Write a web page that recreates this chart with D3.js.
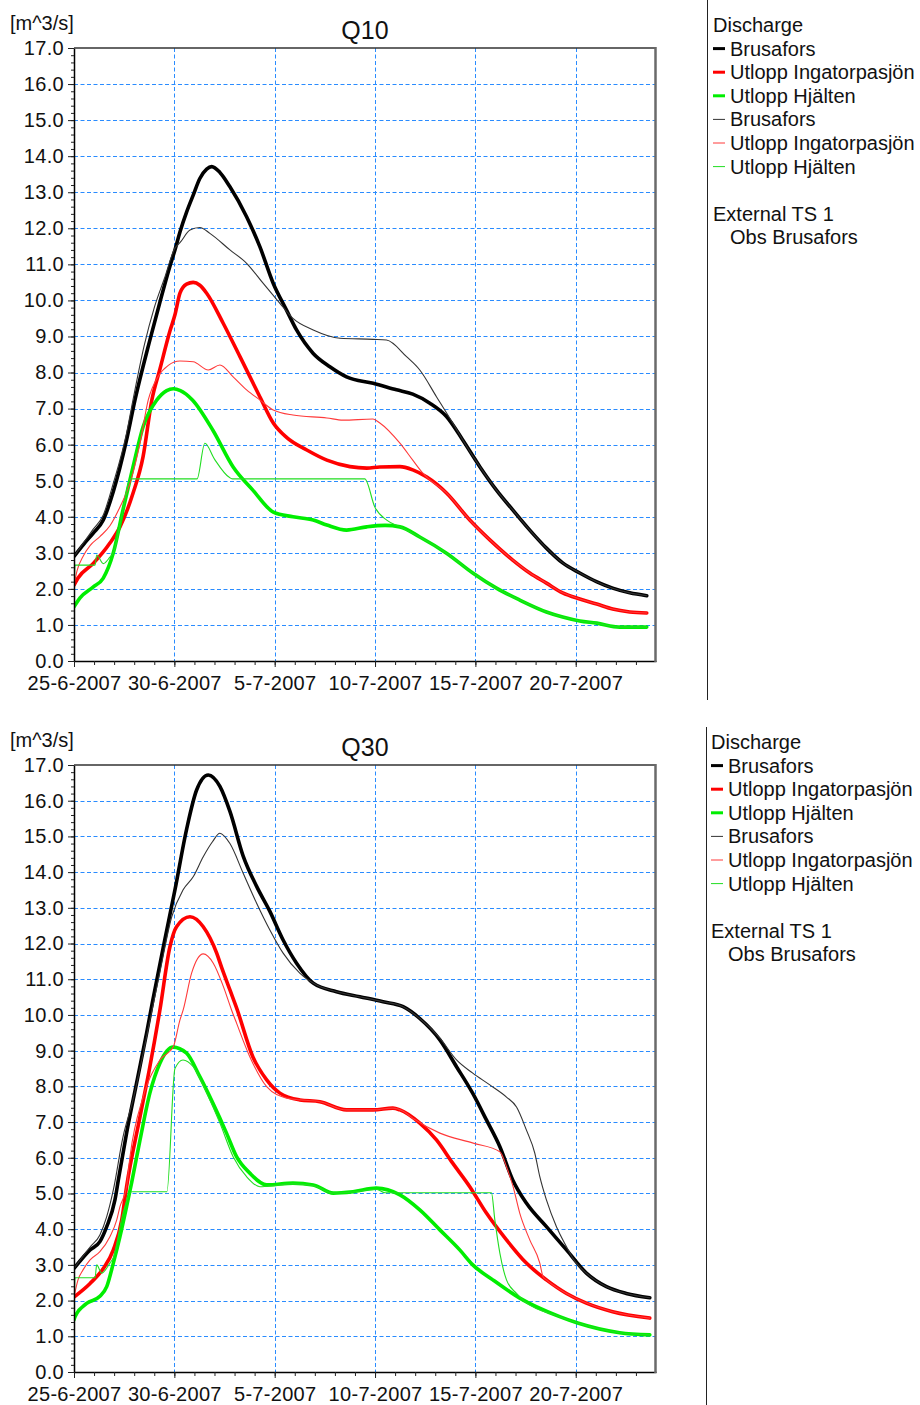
<!DOCTYPE html>
<html>
<head>
<meta charset="utf-8">
<script src="https://cdn.jsdelivr.net/npm/d3@7"></script>
<style>
  body { margin: 0; background: #fff; }
  svg { display: block; font-family: "Liberation Sans", Arial, sans-serif; }
</style>
</head>
<body>
<svg id="chart" width="920" height="1405"></svg>
<script>
// Discharge series, [days after 25-6-2007 00:00, m^3/s]

// ---- Q10 ----
const q10BrusaforsThick = [[0,2.9],[0.5,3.25],[0.95,3.54],[1.46,3.91],[1.96,4.7],[2.62,6.13],[3.04,7.24],[3.78,8.9],[4.28,9.95],[4.78,10.95],[5.03,11.4],[5.28,11.9],[5.61,12.45],[5.94,12.92],[6.27,13.38],[6.61,13.64],[6.86,13.71],[7.27,13.55],[7.77,13.15],[8.6,12.32],[9.26,11.49],[9.93,10.47],[10.59,9.73],[11.09,9.18],[11.92,8.53],[12.75,8.16],[13.58,7.88],[14.91,7.7],[16.07,7.52],[16.88,7.4],[17.73,7.15],[18.56,6.78],[19.37,6.13],[20.22,5.39],[21.05,4.74],[21.86,4.19],[22.71,3.63],[23.54,3.13],[24.35,2.72],[25.2,2.44],[26.03,2.2],[26.84,2.02],[27.69,1.89],[28.54,1.81]];
const q10IngatorpasjonThick = [[0,2.1],[0.2,2.3],[0.95,2.7],[1.79,3.27],[2.29,3.72],[2.94,4.65],[3.44,5.66],[3.88,7.24],[4.28,8.09],[4.78,9.15],[5.03,9.6],[5.28,10.2],[5.61,10.45],[5.94,10.5],[6.27,10.42],[6.61,10.2],[7.44,9.36],[8.27,8.44],[9.26,7.33],[9.93,6.6],[10.59,6.2],[11.6,5.85],[12.6,5.57],[13.75,5.39],[14.59,5.35],[15.24,5.38],[16.24,5.39],[16.88,5.3],[17.58,5.1],[18.56,4.66],[19.72,3.91],[20.72,3.36],[21.86,2.8],[22.71,2.44],[23.54,2.16],[24.35,1.89],[25.2,1.72],[26.05,1.58],[26.84,1.44],[27.69,1.36],[28.54,1.33]];
const q10HjaltenThick = [[0,1.5],[0.3,1.75],[0.95,2.05],[1.46,2.3],[1.96,3.0],[2.44,4.19],[2.94,5.38],[3.44,6.49],[4.13,7.24],[4.62,7.5],[4.95,7.55],[5.3,7.5],[5.9,7.24],[6.92,6.4],[7.93,5.38],[8.91,4.74],[9.93,4.13],[10.91,4.0],[11.92,3.91],[12.6,3.77],[13.58,3.63],[14.59,3.72],[15.5,3.76],[16.24,3.72],[17.23,3.44],[18.56,2.99],[19.87,2.44],[21.05,2.02],[22.21,1.69],[23.54,1.36],[24.35,1.22],[25.2,1.11],[26.05,1.05],[27.19,0.94],[28.54,0.94]];
const q10BrusaforsThin = [[0,2.9],[0.5,3.3],[0.95,3.65],[1.46,4.05],[1.96,4.93],[2.62,6.32],[2.94,7.24],[3.5,8.75],[4.0,9.8],[4.5,10.6],[5.03,11.45],[5.28,11.6],[5.78,11.95],[6.27,12.02],[6.77,11.86],[7.77,11.4],[8.6,11.03],[9.43,10.47],[10.26,9.92],[10.91,9.5],[11.92,9.18],[13.25,8.95],[14.91,8.92],[15.57,8.9],[16.57,8.44],[17.23,8.07],[18.06,7.33],[18.87,6.6],[19.37,6.13],[20.22,5.39],[21.05,4.74],[21.86,4.19],[22.71,3.63],[23.54,3.13],[24.35,2.72],[25.2,2.44],[26.03,2.2],[26.84,2.02],[27.69,1.89],[28.54,1.81]];
const q10IngatorpasjonThin = [[0,2.1],[0.15,2.5],[0.45,2.9],[0.8,3.2],[1.29,3.45],[1.79,3.75],[2.29,4.27],[2.79,4.93],[3.29,6.04],[3.7,7.24],[4.2,7.9],[4.7,8.2],[5.28,8.32],[5.94,8.3],[6.69,8.07],[7.27,8.21],[7.93,7.88],[8.6,7.52],[9.26,7.24],[9.93,6.96],[10.91,6.82],[12.6,6.74],[13.4,6.68],[14.9,6.71],[15.24,6.6],[16.24,6.04],[16.88,5.57],[17.4,5.2],[17.58,5.1],[18.56,4.66],[19.72,3.91],[20.72,3.36],[21.86,2.8],[22.71,2.44],[23.54,2.16],[24.35,1.89],[25.2,1.72],[26.05,1.58],[26.84,1.44],[27.69,1.36],[28.54,1.33]];
const q10HjaltenThin = [[0,1.5],[0.05,2.66],[1.05,2.66],[1.13,2.94],[1.46,2.7],[1.79,2.88],[1.96,3.0],[2.44,4.19],[2.8,5.05],[6.13,5.05],[6.52,6.04],[7.0,5.6],[7.77,5.08],[7.9,5.05],[14.49,5.05],[14.99,4.27],[15.6,3.9],[16.24,3.72],[17.23,3.44],[18.56,2.99],[19.87,2.44],[21.05,2.02],[22.21,1.69],[23.54,1.36],[24.35,1.22],[25.2,1.11],[26.05,1.05],[27.19,0.94],[28.54,0.94]];

// ---- Q30 ----
const q30BrusaforsThick = [[0,2.9],[0.8,3.42],[1.29,3.65],[1.63,4.07],[2.04,4.82],[2.21,5.38],[2.62,6.69],[3.12,8.1],[3.62,9.5],[3.93,10.42],[4.45,11.9],[5.03,13.5],[5.61,15.2],[6.11,16.3],[6.69,16.72],[7.27,16.4],[7.77,15.7],[8.43,14.45],[9.1,13.6],[9.76,12.9],[10.42,12.1],[11.09,11.45],[11.92,10.89],[13.08,10.65],[14.24,10.51],[15.4,10.37],[16.4,10.23],[17.23,9.9],[18.23,9.3],[19.06,8.55],[19.87,7.8],[20.55,7.06],[21.22,6.31],[21.86,5.38],[22.54,4.73],[23.54,4.07],[24.54,3.42],[25.53,2.77],[26.53,2.39],[27.52,2.2],[28.69,2.08]];
const q30IngatorpasjonThick = [[0,2.1],[0.8,2.48],[1.46,2.9],[1.96,3.42],[2.38,4.26],[2.62,5.19],[3.29,7.15],[3.78,8.55],[4.28,10.14],[4.78,11.91],[5.11,12.47],[5.78,12.75],[6.44,12.47],[7.11,11.73],[7.35,11.34],[7.77,10.7],[8.1,10.2],[8.91,8.83],[9.6,8.18],[10.26,7.81],[11.25,7.62],[12.25,7.57],[13.58,7.34],[14.91,7.34],[15.89,7.39],[16.24,7.34],[17.23,6.97],[18.06,6.5],[18.87,5.85],[19.72,5.19],[20.55,4.45],[21.55,3.7],[22.54,3.05],[23.54,2.58],[24.54,2.2],[25.53,1.93],[26.84,1.69],[28.69,1.51]];
const q30HjaltenThick = [[0,1.46],[0.05,1.55],[0.63,1.92],[1.29,2.12],[1.63,2.39],[1.96,3.05],[2.29,3.79],[2.62,4.63],[2.87,5.3],[3.29,6.5],[3.78,7.81],[4.28,8.65],[4.93,9.1],[5.61,8.93],[6.27,8.27],[6.92,7.53],[7.6,6.69],[8.1,6.03],[8.76,5.57],[9.6,5.24],[10.91,5.29],[11.92,5.24],[12.92,5.01],[13.9,5.05],[15.07,5.15],[16.24,4.96],[17.23,4.54],[18.23,3.98],[19.22,3.42],[19.87,3.0],[20.87,2.58],[22.21,2.07],[24.2,1.55],[25.1,1.37],[27.19,1.1],[28.69,1.04]];
const q30BrusaforsThin = [[0,2.9],[0.8,3.5],[1.29,3.84],[1.63,4.35],[1.96,5.1],[2.44,6.58],[2.94,7.62],[3.62,9.4],[4.28,11.2],[4.87,12.75],[5.43,13.5],[5.94,13.87],[6.44,14.43],[6.9,14.85],[7.27,15.09],[7.77,14.8],[8.43,13.97],[9.1,13.13],[9.76,12.38],[10.42,11.73],[11.25,11.17],[12.09,10.84],[13.08,10.65],[14.24,10.51],[15.4,10.37],[16.4,10.23],[17.23,9.9],[18.23,9.35],[19.06,8.74],[19.87,8.37],[20.72,8.04],[21.55,7.7],[22.05,7.42],[22.54,6.78],[22.96,6.13],[23.21,5.47],[23.54,4.82],[24.04,4.07],[24.54,3.51],[24.85,3.19],[25.53,2.77],[26.53,2.39],[27.52,2.2],[28.69,2.08]];
const q30IngatorpasjonThin = [[0,2.1],[0.2,2.58],[0.45,2.86],[0.8,3.14],[1.29,3.37],[1.79,3.79],[2.13,4.26],[2.29,4.63],[2.62,5.19],[2.79,6.03],[3.45,7.71],[4.28,8.74],[4.95,9.11],[5.28,9.86],[5.44,10.14],[5.86,11.17],[6.44,11.71],[6.94,11.45],[7.44,10.8],[7.85,10.14],[8.1,9.77],[8.76,8.83],[9.6,7.99],[10.59,7.67],[11.25,7.62],[12.25,7.57],[13.58,7.34],[14.91,7.34],[15.89,7.39],[16.4,7.3],[16.9,7.1],[18.23,6.69],[19.89,6.41],[21.22,6.17],[21.55,5.75],[21.88,5.19],[22.21,4.45],[22.71,3.7],[23.21,3.05],[23.37,2.67],[23.54,2.58],[24.54,2.2],[25.53,1.93],[26.84,1.69],[28.69,1.51]];
const q30HjaltenThin = [[0,1.5],[0.05,2.64],[1.05,2.64],[1.13,3.0],[1.38,2.77],[1.79,3.05],[1.96,3.2],[2.44,4.45],[2.87,5.05],[4.63,5.05],[5.03,8.5],[5.43,8.74],[5.94,8.55],[6.61,7.81],[7.27,6.97],[7.93,6.03],[8.6,5.47],[9.26,5.19],[9.6,5.2],[10.91,5.27],[11.92,5.22],[12.92,5.01],[13.9,5.04],[15.07,5.12],[15.5,5.02],[20.8,5.02],[20.97,4.26],[21.22,3.33],[21.55,2.58],[22.05,2.2],[22.36,2.02],[24.2,1.55],[25.1,1.37],[27.19,1.1],[28.69,1.04]];

// Axis ticks and labels
const yMajorTicks = [0,1,2,3,4,5,6,7,8,9,10,11,12,13,14,15,16,17];
const dateTicks = ["2007-06-25","2007-06-30","2007-07-05","2007-07-10","2007-07-15","2007-07-20"];
const seriesNames = ["Brusafors","Utlopp Ingatorpasjön","Utlopp Hjälten","Brusafors","Utlopp Ingatorpasjön","Utlopp Hjälten"];
const panelTitles = ["Q10","Q30"];

// Line styles: three thick simulated series, three thin ones
const lineStyles = [
  { color: "#000000", width: 3.6 },
  { color: "#ff0000", width: 3.6 },
  { color: "#00ee00", width: 3.6 },
  { color: "#333333", width: 1.1 },
  { color: "#ff3a3a", width: 1.1 },
  { color: "#22dd22", width: 1.1 }
];

const panels = [
  { title: panelTitles[0], top: 48, bottom: 661, sepX: 707.5, sepY: [0, 700], legendX: 713, legendY: 25,
    series: [q10BrusaforsThick, q10IngatorpasjonThick, q10HjaltenThick, q10BrusaforsThin, q10IngatorpasjonThin, q10HjaltenThin] },
  { title: panelTitles[1], top: 765, bottom: 1372, sepX: 706.5, sepY: [727, 1405], legendX: 711, legendY: 742,
    series: [q30BrusaforsThick, q30IngatorpasjonThick, q30HjaltenThick, q30BrusaforsThin, q30IngatorpasjonThin, q30HjaltenThin] }
];

const left = 74, right = 656;
const textColor = "#111";
const gridColor = "#2a8cff";
const parseDay = d3.utcParse("%Y-%m-%d");
const fmtDay = d3.utcFormat("%-d-%-m-%Y");
const t0 = parseDay("2007-06-25");
const t1 = parseDay("2007-07-24");
const toDate = d => new Date(t0.getTime() + d * 864e5);

const svg = d3.select("#chart");

const x = d3.scaleUtc().domain([t0, t1]).range([left, right]);

panels.forEach((p, pi) => {
  const y = d3.scaleLinear().domain([0, 17]).range([p.bottom, p.top]);
  const g = svg.append("g");

  // grid
  const grid = g.append("g").attr("stroke", gridColor).attr("stroke-width", 1).attr("stroke-dasharray", "4,2.5");
  grid.selectAll("line.h").data(yMajorTicks.filter(v => v > 0 && v < 17)).enter().append("line")
    .attr("x1", left).attr("x2", right - 1)
    .attr("y1", v => Math.round(y(v)) + 0.5).attr("y2", v => Math.round(y(v)) + 0.5);
  grid.selectAll("line.v").data(dateTicks.slice(1).map(parseDay)).enter().append("line")
    .attr("x1", d => Math.round(x(d)) + 0.5).attr("x2", d => Math.round(x(d)) + 0.5)
    .attr("y1", p.top).attr("y2", p.bottom);

  // series
  const clipId = "clip" + pi;
  svg.append("clipPath").attr("id", clipId).append("rect")
    .attr("x", left).attr("y", p.top).attr("width", right - left - 2).attr("height", p.bottom - p.top);
  const line = d3.line().x(d => x(toDate(d[0]))).y(d => y(d[1])).curve(d3.curveMonotoneX);
  g.append("g").attr("clip-path", `url(#${clipId})`)
    .selectAll("path").data(p.series).enter().append("path")
    .attr("d", line)
    .attr("fill", "none")
    .attr("stroke", (d, i) => lineStyles[i].color)
    .attr("stroke-width", (d, i) => lineStyles[i].width)
    .attr("stroke-linejoin", "round")
    .attr("stroke-linecap", "round");

  // y axis: major ticks with labels, minor ticks every 0.2
  const yAxis = g.append("g").attr("transform", `translate(${left},0)`)
    .call(d3.axisLeft(y).tickValues(yMajorTicks).tickFormat(d3.format(".1f")).tickSize(6).tickPadding(4).tickSizeOuter(0));
  g.append("g").attr("transform", `translate(${left},0)`)
    .call(d3.axisLeft(y).tickValues(d3.range(0, 85).map(i => i / 5)).tickFormat("").tickSize(3).tickSizeOuter(0))
    .call(a => a.select(".domain").remove());

  // x axis: major ticks every 5 days with labels, minor ticks daily
  const xAxis = g.append("g").attr("transform", `translate(0,${p.bottom})`)
    .call(d3.axisBottom(x).tickValues(dateTicks.map(parseDay)).tickFormat(fmtDay).tickSize(6).tickPadding(9).tickSizeOuter(0));
  g.append("g").attr("transform", `translate(0,${p.bottom})`)
    .call(d3.axisBottom(x).tickValues(d3.utcDay.range(t0, t1)).tickFormat("").tickSize(4).tickSizeOuter(0))
    .call(a => a.select(".domain").remove());

  [yAxis, xAxis].forEach(a => {
    a.selectAll("text").attr("font-size", 20).attr("fill", textColor)
      .attr("letter-spacing", "0.3px")
      .attr("font-family", "'Liberation Sans', Arial, sans-serif");
    a.select(".domain").attr("stroke", "#000").attr("stroke-width", 1.5);
  });
  g.selectAll(".tick line").attr("stroke", "#222");

  // frame: top edge and right edge
  g.append("line").attr("x1", left).attr("x2", right).attr("y1", p.top).attr("y2", p.top)
    .attr("stroke", "#333").attr("stroke-width", 1.5);
  g.append("line").attr("x1", right - 0.5).attr("x2", right - 0.5).attr("y1", p.top - 1).attr("y2", p.bottom + 1)
    .attr("stroke", "#6a6a6a").attr("stroke-width", 2.5);

  // title and unit
  g.append("text").attr("x", 365).attr("y", p.top - 9).attr("text-anchor", "middle")
    .attr("font-size", 25).attr("fill", textColor).text(p.title);
  g.append("text").attr("x", 10).attr("y", p.top - 18)
    .attr("font-size", 20).attr("fill", textColor).text("[m^3/s]");

  // legend
  g.append("line").attr("x1", p.sepX).attr("x2", p.sepX).attr("y1", p.sepY[0]).attr("y2", p.sepY[1])
    .attr("stroke", "#222").attr("stroke-width", 1);
  const rowH = 23.6;
  const lg = g.append("g").attr("font-size", 20).attr("fill", textColor);
  lg.append("text").attr("x", p.legendX).attr("y", p.legendY).attr("dy", "0.35em").text("Discharge");
  seriesNames.forEach((name, i) => {
    const cy = p.legendY + (i + 1) * rowH;
    lg.append("line").attr("x1", p.legendX).attr("x2", p.legendX + 12).attr("y1", cy).attr("y2", cy)
      .attr("stroke", lineStyles[i].color).attr("stroke-width", i < 3 ? 3 : 1);
    lg.append("text").attr("x", p.legendX + 17).attr("y", cy).attr("dy", "0.35em").text(name);
  });
  lg.append("text").attr("x", p.legendX).attr("y", p.legendY + 8 * rowH).attr("dy", "0.35em").text("External TS 1");
  lg.append("text").attr("x", p.legendX + 17).attr("y", p.legendY + 9 * rowH).attr("dy", "0.35em").text("Obs Brusafors");
});
</script>
</body>
</html>
